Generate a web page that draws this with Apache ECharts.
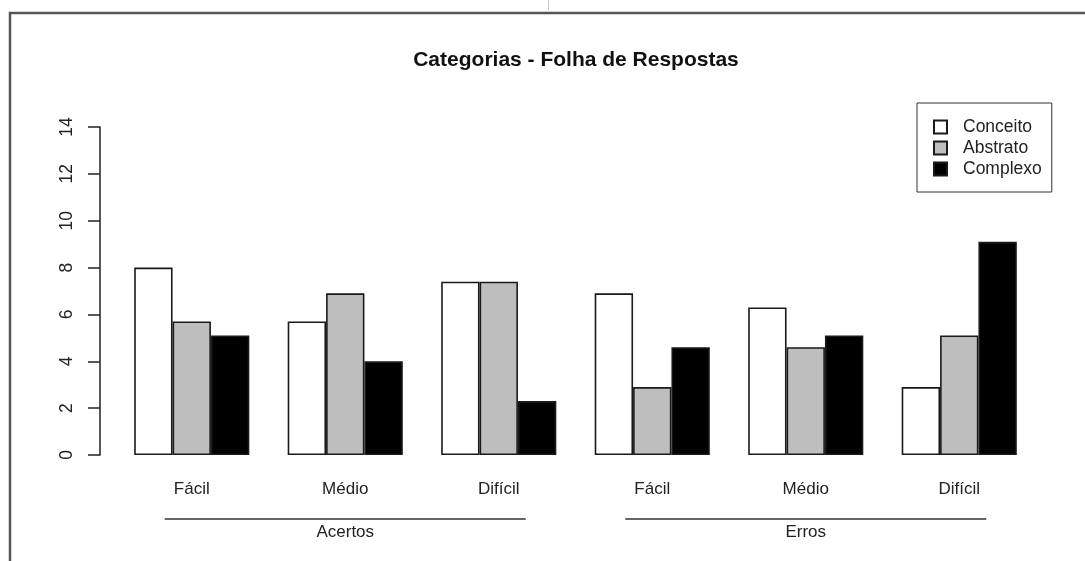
<!DOCTYPE html>
<html>
<head>
<meta charset="utf-8">
<script src="https://cdn.jsdelivr.net/npm/echarts@6/dist/echarts.min.js"></script>
<style>
  html, body { margin: 0; padding: 0; background: #ffffff; }
  #chart { width: 1085px; height: 561px; }
</style>
</head>
<body>
<div id="chart"></div>
<script>
// Answer-sheet categories: two outcome groups, three difficulty levels each
const groups = ['Acertos', 'Erros'];
const levels = ['Fácil', 'Médio', 'Difícil'];
const categories = ['Fácil', 'Médio', 'Difícil', 'Fácil', 'Médio', 'Difícil'];

const seriesNames = ['Conceito', 'Abstrato', 'Complexo'];
const conceito = [8.0, 5.7, 7.4, 6.9, 6.3, 2.9];
const abstrato = [5.7, 6.9, 7.4, 2.9, 4.6, 5.1];
const complexo = [5.1, 4.0, 2.3, 4.6, 5.1, 9.1];
const yTicks = { min: 0, max: 14, step: 2 };

const FONT = "'Liberation Sans', Arial, Helvetica, sans-serif";
const fills = ['#ffffff', '#bebebe', '#000000'];
const values = [conceito, abstrato, complexo];

const chart = echarts.init(document.getElementById('chart'), null, { renderer: 'canvas' });

const grid = { left: 115, right: 49, top: 127, bottom: 106 };

const option = {
  animation: false,
  backgroundColor: '#ffffff',
  textStyle: { fontFamily: FONT },
  title: {
    text: 'Categorias - Folha de Respostas',
    left: 576,
    top: 50,
    textAlign: 'center',
    padding: 0,
    textStyle: { fontFamily: FONT, fontSize: 21, fontWeight: 'bold', color: '#111111' }
  },
  legend: {
    data: seriesNames,
    orient: 'vertical',
    left: 917,
    top: 103,
    icon: 'rect',
    itemWidth: 13,
    itemHeight: 13,
    itemGap: 3,
    padding: [15, 10, 14, 16],
    borderColor: '#333333',
    borderWidth: 1,
    textStyle: { fontFamily: FONT, fontSize: 17.5, lineHeight: 17, color: '#222222', padding: [0, 0, 0, 11] }
  },
  grid: grid,
  xAxis: {
    type: 'category',
    data: categories,
    axisLine: { show: false },
    axisTick: { show: false },
    axisLabel: { fontFamily: FONT, fontSize: 17, color: '#222222', margin: 26 }
  },
  yAxis: {
    type: 'value',
    min: yTicks.min,
    max: yTicks.max,
    interval: yTicks.step,
    offset: 15,
    splitLine: { show: false },
    axisLine: { show: true, lineStyle: { color: '#222222', width: 1.5 } },
    axisTick: { show: true, length: 12, lineStyle: { color: '#222222', width: 1.5 } },
    axisLabel: { fontFamily: FONT, fontSize: 17.5, color: '#222222', rotate: 90, margin: 24 }
  },
  series: seriesNames.map((name, i) => ({
    name: name,
    type: 'bar',
    data: values[i],
    barGap: '0%',
    barCategoryGap: '25%',
    itemStyle: { color: fills[i], borderColor: '#1a1a1a', borderWidth: 1.6 }
  }))
};

chart.setOption(option);

// Group captions beneath the difficulty labels, with a rule spanning each group
const graphics = [];
const ruleY = 519;
const captionY = 532;
const overhang = 27;
groups.forEach((g, gi) => {
  const first = chart.convertToPixel({ xAxisIndex: 0 }, gi * levels.length);
  const mid = chart.convertToPixel({ xAxisIndex: 0 }, gi * levels.length + 1);
  const last = chart.convertToPixel({ xAxisIndex: 0 }, gi * levels.length + levels.length - 1);
  graphics.push({
    type: 'line',
    shape: { x1: first - overhang, y1: ruleY, x2: last + overhang, y2: ruleY },
    style: { stroke: '#333333', lineWidth: 1.5 },
    silent: true
  });
  graphics.push({
    type: 'text',
    x: mid,
    y: captionY,
    style: { text: g, font: '17px ' + FONT, fill: '#222222', align: 'center', verticalAlign: 'middle' },
    silent: true
  });
});

// Page frame along the top and left edges
graphics.push({
  type: 'polyline',
  shape: { points: [[10, 561], [10, 13], [1085, 13]] },
  style: { stroke: '#555555', lineWidth: 2.5, fill: null },
  silent: true
});
graphics.push({
  type: 'line',
  shape: { x1: 548.5, y1: 0, x2: 548.5, y2: 10 },
  style: { stroke: '#c8c8c8', lineWidth: 1 },
  silent: true
});

chart.setOption({ graphic: graphics });
</script>
</body>
</html>
